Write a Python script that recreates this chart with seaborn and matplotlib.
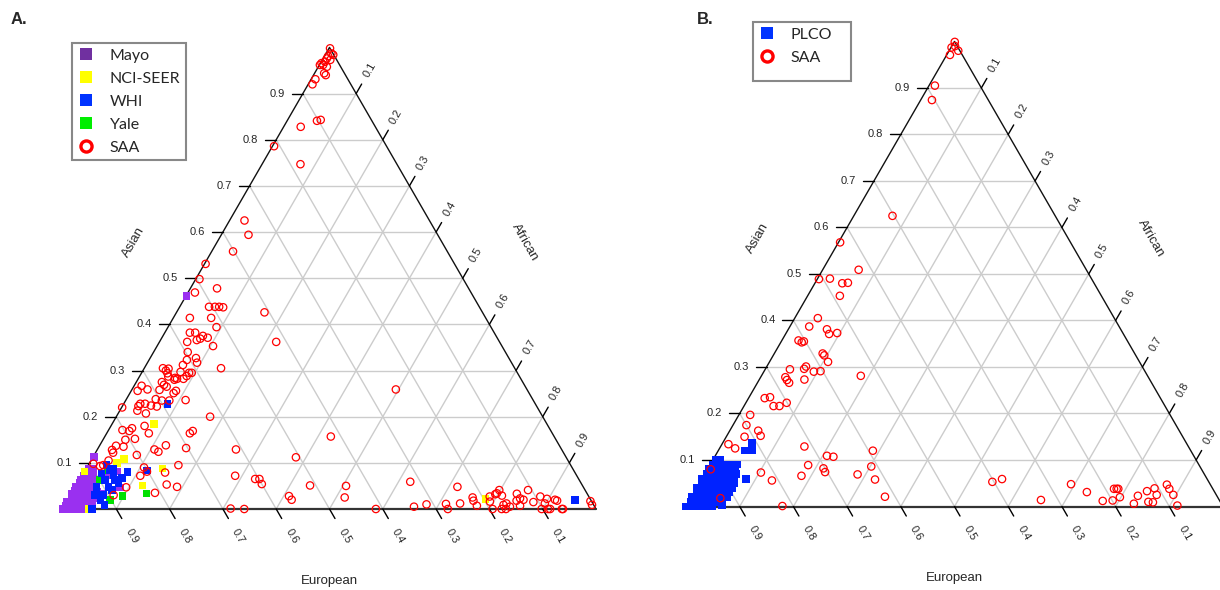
import numpy as np
import pandas as pd
import matplotlib
matplotlib.use("Agg")
import matplotlib.pyplot as plt
from matplotlib.lines import Line2D
from matplotlib.patches import Rectangle
import seaborn as sns

# ---------------- data (ternary compositions: Asian, African; European = 1 - both) -------------
TICKS = [0.1, 0.2, 0.3, 0.4, 0.5, 0.6, 0.7, 0.8, 0.9]
TICK_LABELS = ["0.1", "0.2", "0.3", "0.4", "0.5", "0.6", "0.7", "0.8", "0.9"]
AXIS_NAMES = ["Asian", "African", "European"]
GROUPS_A = ["Mayo", "NCI-SEER", "WHI", "Yale", "SAA"]
GROUPS_B = ["PLCO", "SAA"]

# Panel A - SAA
saa_a_asian = [0.998, 0.987, 0.984, 0.981, 0.976, 0.973, 0.969, 0.966, 0.962, 0.958, 0.962, 0.944, 0.940,
               0.931, 0.920, 0.843, 0.841, 0.828, 0.786, 0.747, 0.625, 0.594, 0.558, 0.531, 0.498, 0.478,
               0.469, 0.438, 0.438, 0.438, 0.437, 0.426, 0.414, 0.414, 0.394, 0.382, 0.382, 0.375, 0.371,
               0.362, 0.366, 0.369, 0.353, 0.362, 0.340, 0.327, 0.317, 0.323, 0.312, 0.305, 0.305, 0.304,
               0.300, 0.297, 0.295, 0.295, 0.294, 0.287, 0.284, 0.282, 0.280, 0.282, 0.288, 0.275, 0.265,
               0.269, 0.258, 0.251, 0.256, 0.267, 0.259, 0.256, 0.236, 0.238, 0.235, 0.228, 0.223, 0.228,
               0.224, 0.222, 0.220, 0.235, 0.207, 0.213, 0.200, 0.180, 0.171, 0.169, 0.175, 0.164, 0.150,
               0.152, 0.169, 0.164, 0.137, 0.128, 0.122, 0.129, 0.124, 0.138, 0.132, 0.129, 0.112, 0.105,
               0.095, 0.093, 0.090, 0.095, 0.072, 0.079, 0.072, 0.065, 0.065, 0.054, 0.053, 0.048, 0.035,
               0.047, 0.030, 0.028, 0.020, 0.001, 0.000, 0.259, 0.157, 0.059, 0.051, 0.050, 0.025, 0.000,
               0.048, 0.005, 0.010, 0.011, 0.000, 0.012, 0.025, 0.018, 0.007, 0.027, 0.016, 0.000, 0.032,
               0.034, 0.041, 0.029, 0.009, 0.012, 0.000, 0.000, 0.005, 0.033, 0.023, 0.018, 0.020, 0.007,
               0.041, 0.015, 0.027, 0.022, 0.012, 0.000, 0.000, 0.000, 0.020, 0.018, 0.000, 0.000, 0.017,
               0.009, 0.098, 0.135, 0.117, 0.081]
saa_a_african = [0.002, 0.010, 0.015, 0.007, 0.007, 0.015, 0.007, 0.002, 0.001, 0.016, 0.007, 0.018, 0.023,
                 0.008, 0.008, 0.062, 0.056, 0.032, 0.003, 0.072, 0.028, 0.051, 0.040, 0.002, 0.007, 0.050,
                 0.013, 0.055, 0.066, 0.074, 0.082, 0.165, 0.031, 0.071, 0.091, 0.047, 0.057, 0.075, 0.086,
                 0.052, 0.068, 0.073, 0.105, 0.219, 0.064, 0.086, 0.093, 0.071, 0.069, 0.144, 0.035, 0.046,
                 0.043, 0.072, 0.089, 0.094, 0.049, 0.054, 0.068, 0.073, 0.069, 0.085, 0.088, 0.048, 0.062,
                 0.055, 0.052, 0.082, 0.084, 0.014, 0.029, 0.012, 0.112, 0.055, 0.068, 0.031, 0.030, 0.040,
                 0.053, 0.065, 0.001, 0.082, 0.052, 0.033, 0.176, 0.063, 0.026, 0.040, 0.042, 0.079, 0.042,
                 0.059, 0.159, 0.156, 0.031, 0.028, 0.033, 0.107, 0.117, 0.124, 0.165, 0.260, 0.381, 0.033,
                 0.028, 0.023, 0.107, 0.169, 0.109, 0.152, 0.287, 0.328, 0.336, 0.346, 0.168, 0.190, 0.155,
                 0.095, 0.080, 0.410, 0.419, 0.314, 0.340, 0.495, 0.424, 0.622, 0.438, 0.506, 0.516, 0.587,
                 0.716, 0.656, 0.677, 0.713, 0.722, 0.739, 0.756, 0.761, 0.773, 0.787, 0.793, 0.806, 0.795,
                 0.797, 0.798, 0.809, 0.822, 0.826, 0.823, 0.831, 0.836, 0.835, 0.846, 0.842, 0.854, 0.854,
                 0.852, 0.875, 0.882, 0.897, 0.898, 0.898, 0.910, 0.914, 0.913, 0.918, 0.936, 0.938, 0.981,
                 0.988, 0.008, 0.046, 0.080, 0.117]

# Panel A - Mayo
mayo_asian = [0.000, 0.000, 0.000, 0.000, 0.000, 0.000,
              0.008, 0.008, 0.008, 0.008, 0.008, 0.008,
              0.016, 0.016, 0.016, 0.016, 0.016, 0.016,
              0.024, 0.024, 0.024, 0.024, 0.024, 0.024,
              0.032, 0.032, 0.032, 0.032, 0.032, 0.032,
              0.040, 0.040, 0.040, 0.040, 0.040,
              0.048, 0.048, 0.048, 0.048, 0.048,
              0.056, 0.056, 0.056, 0.056,
              0.064, 0.064, 0.064, 0.064,
              0.072, 0.072, 0.072,
              0.080, 0.080, 0.080,
              0.088, 0.088,
              0.462, 0.113, 0.081, 0.047, 0.074, 0.063, 0.038, 0.034]
mayo_african = [0.000, 0.010, 0.020, 0.030, 0.040, 0.047,
                0.002, 0.012, 0.024, 0.035, 0.043, 0.050,
                0.000, 0.008, 0.018, 0.028, 0.038, 0.047,
                0.004, 0.014, 0.022, 0.032, 0.040, 0.048,
                0.000, 0.010, 0.020, 0.030, 0.036, 0.044,
                0.003, 0.012, 0.022, 0.031, 0.040,
                0.000, 0.009, 0.018, 0.027, 0.036,
                0.004, 0.013, 0.022, 0.031,
                0.001, 0.010, 0.019, 0.028,
                0.003, 0.012, 0.021,
                0.002, 0.009, 0.017,
                0.004, 0.012,
                0.001, 0.002, 0.061, 0.083, 0.044, 0.029, 0.045, 0.056]

# Panel A - NCI-SEER
nci_asian = [0.184, 0.100, 0.108, 0.088, 0.051, 0.022, 0.000, 0.081]
nci_african = [0.079, 0.051, 0.060, 0.143, 0.124, 0.782, 0.049, 0.000]

# Panel A - WHI
whi_asian = [0.228, 0.020, 0.077, 0.085, 0.074, 0.063, 0.067, 0.048, 0.041, 0.030, 0.020,
             0.000, 0.080, 0.083, 0.063, 0.056, 0.088, 0.095, 0.048, 0.009, 0.030]
whi_african = [0.082, 0.951, 0.034, 0.046, 0.058, 0.066, 0.077, 0.061, 0.071, 0.060, 0.060,
               0.054, 0.081, 0.116, 0.047, 0.076, 0.050, 0.034, 0.039, 0.073, 0.045]

# Panel A - Yale
yale_asian = [0.034, 0.028, 0.083, 0.063, 0.030, 0.020]
yale_african = [0.140, 0.098, 0.043, 0.038, 0.053, 0.078]

# Panel B - SAA
saa_b_asian = [0.999, 0.987, 0.990, 0.980, 0.971, 0.905, 0.874, 0.625, 0.568, 0.509, 0.489, 0.490, 0.480,
               0.481, 0.453, 0.405, 0.387, 0.381, 0.371, 0.373, 0.357, 0.353, 0.355, 0.329, 0.325, 0.311,
               0.301, 0.296, 0.295, 0.290, 0.291, 0.281, 0.278, 0.272, 0.266, 0.273, 0.233, 0.235, 0.216,
               0.216, 0.223, 0.197, 0.175, 0.163, 0.152, 0.150, 0.134, 0.125, 0.129, 0.109, 0.107, 0.120,
               0.089, 0.082, 0.074, 0.066, 0.073, 0.056, 0.069, 0.086, 0.058, 0.021, 0.001, 0.080, 0.018,
               0.053, 0.059, 0.014, 0.048, 0.031, 0.012, 0.013, 0.038, 0.038, 0.038, 0.020, 0.006, 0.023,
               0.033, 0.010, 0.009, 0.039, 0.025, 0.047, 0.038, 0.025, 0.002]
saa_b_african = [0.001, 0.001, 0.006, 0.017, 0.006, 0.011, 0.021, 0.072, 0.003, 0.067, 0.003, 0.023, 0.051,
                 0.061, 0.060, 0.043, 0.036, 0.072, 0.081, 0.095, 0.031, 0.039, 0.042, 0.090, 0.095, 0.109,
                 0.073, 0.072, 0.046, 0.093, 0.105, 0.185, 0.046, 0.052, 0.059, 0.084, 0.030, 0.039, 0.055,
                 0.066, 0.076, 0.021, 0.025, 0.053, 0.063, 0.034, 0.012, 0.029, 0.156, 0.208, 0.221, 0.288,
                 0.183, 0.215, 0.222, 0.182, 0.103, 0.132, 0.285, 0.302, 0.323, 0.360, 0.179, 0.006, 0.055,
                 0.544, 0.559, 0.654, 0.693, 0.731, 0.770, 0.788, 0.778, 0.783, 0.786, 0.798, 0.831, 0.830,
                 0.842, 0.856, 0.865, 0.853, 0.864, 0.872, 0.881, 0.895, 0.914]

# Panel B - PLCO
plco_asian = [0.000, 0.000, 0.000, 0.000, 0.000, 0.000,
              0.010, 0.010, 0.010, 0.010, 0.010, 0.010, 0.010,
              0.020, 0.020, 0.020, 0.020, 0.020, 0.020, 0.020, 0.020,
              0.030, 0.030, 0.030, 0.030, 0.030, 0.030, 0.030,
              0.040, 0.040, 0.040, 0.040, 0.040, 0.040, 0.040, 0.040,
              0.050, 0.050, 0.050, 0.050, 0.050, 0.050, 0.050,
              0.060, 0.060, 0.060, 0.060, 0.060, 0.060, 0.060,
              0.070, 0.070, 0.070, 0.070, 0.070, 0.070, 0.070,
              0.080, 0.080, 0.080, 0.080, 0.080, 0.080,
              0.090, 0.090, 0.090, 0.090, 0.090,
              0.100, 0.100,
              0.137, 0.120, 0.120, 0.059, 0.003, 0.084]
plco_african = [0.000, 0.010, 0.020, 0.030, 0.040, 0.048,
                0.004, 0.014, 0.024, 0.034, 0.044, 0.054, 0.060,
                0.000, 0.010, 0.020, 0.030, 0.040, 0.050, 0.060, 0.066,
                0.005, 0.015, 0.025, 0.035, 0.045, 0.055, 0.065,
                0.000, 0.010, 0.020, 0.030, 0.040, 0.050, 0.060, 0.066,
                0.005, 0.015, 0.025, 0.035, 0.045, 0.055, 0.064,
                0.000, 0.010, 0.020, 0.030, 0.040, 0.050, 0.060,
                0.004, 0.014, 0.024, 0.034, 0.044, 0.054, 0.058,
                0.002, 0.012, 0.022, 0.032, 0.042, 0.052,
                0.004, 0.014, 0.026, 0.040, 0.050,
                0.006, 0.014,
                0.054, 0.050, 0.064, 0.082, 0.066, 0.043]

COLORS = {"Mayo": "#9a30f0", "NCI-SEER": "#ffff00", "WHI": "#0022ff", "Yale": "#00e000", "PLCO": "#0022ff"}
LEGEND_COLORS = {"Mayo": "#7030a0", "NCI-SEER": "#ffff00", "WHI": "#0033ff", "Yale": "#00ee00", "PLCO": "#0033ff"}

# ---------------- helpers -------------
H = np.sqrt(3) / 2


def tern(asian, african):
    a = np.asarray(asian, float)
    f = np.asarray(african, float)
    return f + a / 2, a * H


def frame(ax, s):
    gc = "#cccccc"
    for t in TICKS:
        ax.plot([t / 2, 1 - t / 2], [t * H, t * H], color=gc, lw=1.0, zorder=1)
        ax.plot([t, (1 + t) / 2], [0, (1 - t) * H], color=gc, lw=1.0, zorder=1)
        ax.plot([1 - t, (1 - t) / 2], [0, (1 - t) * H], color=gc, lw=1.0, zorder=1)
    ax.plot([0, 0.5, 1], [0, H, 0], color="#111111", lw=1.0, zorder=2, clip_on=False)
    ax.plot([0, 1], [0, 0], color="#333333", lw=1.6, zorder=2, clip_on=False)
    L = 11 / s
    for t, lab in zip(TICKS, TICK_LABELS):
        # Asian (left side, horizontal ticks)
        px, py = t / 2, t * H
        ax.plot([px - L, px], [py, py], color="black", lw=1.0, clip_on=False)
        ax.text(px - L - 7 / s, py, lab, ha="right", va="center", fontsize=8)
        # European (base)
        px, py = 1 - t, 0
        dx, dy = 0.5, -H
        ax.plot([px, px + L * dx], [py, py + L * dy], color="black", lw=1.0, clip_on=False)
        d = 31 / s
        ax.text(px + d * dx, py + d * dy, lab, ha="center", va="center", rotation=-60,
                rotation_mode="anchor", fontsize=8)
        # African (right side)
        px, py = 0.5 + t / 2, (1 - t) * H
        dx, dy = 0.5, H
        ax.plot([px, px + L * dx], [py, py + L * dy], color="black", lw=1.0, clip_on=False)
        d = 27 / s
        ax.text(px + d * dx, py + d * dy, lab, ha="center", va="center", rotation=60,
                rotation_mode="anchor", fontsize=8)
    o = 72 / s
    ax.text(0.25 - o * H, 0.5 * H + o * 0.5, AXIS_NAMES[0], rotation=60, ha="center", va="center",
            rotation_mode="anchor", fontsize=9.5)
    ax.text(0.75 + o * H, 0.5 * H + o * 0.5, AXIS_NAMES[1], rotation=-60, ha="center", va="center",
            rotation_mode="anchor", fontsize=9.5)
    ax.text(0.5, -o, AXIS_NAMES[2], ha="center", va="center", fontsize=9.5)


def make_df(group, asian, african):
    x, y = tern(asian, african)
    return pd.DataFrame({"x": x, "y": y, "group": group})


# ---------------- figure -------------
sns.set_theme(style="white")
plt.rcParams["font.family"] = ["Liberation Sans", "DejaVu Sans"]

W, HGT = 1220, 590
fig = plt.figure(figsize=(W / 100, HGT / 100), dpi=100)

# panel geometry in pixels
sA, leftA, baseA = 533, 63, 509
sB, leftB, baseB = 537, 686, 506.5
axA = fig.add_axes([0, 0, 610 / W, 1])
axA.set_xlim(-leftA / sA, (610 - leftA) / sA)
axA.set_ylim(-(HGT - baseA) / sA, baseA / sA)
axB = fig.add_axes([610 / W, 0, 610 / W, 1])
axB.set_xlim(-(leftB - 610) / sB, (1220 - leftB) / sB)
axB.set_ylim(-(HGT - baseB) / sB, baseB / sB)
for ax in (axA, axB):
    ax.set_axis_off()

frame(axA, sA)
frame(axB, sB)

sq = dict(marker="s", s=30, linewidth=0, legend=False, zorder=3)
circ = dict(marker="o", s=28, facecolors="none", edgecolor="#ff0000", linewidth=0.9, legend=False, zorder=4)

dfA = pd.concat([make_df("Mayo", mayo_asian, mayo_african),
                 make_df("Yale", yale_asian, yale_african),
                 make_df("NCI-SEER", nci_asian, nci_african),
                 make_df("WHI", whi_asian, whi_african)], ignore_index=True)
sns.scatterplot(data=dfA, x="x", y="y", hue="group", palette=COLORS, ax=axA, **sq)
sns.scatterplot(data=make_df("SAA", saa_a_asian, saa_a_african), x="x", y="y", ax=axA, **circ)

sns.scatterplot(data=make_df("PLCO", plco_asian, plco_african), x="x", y="y", hue="group",
                palette=COLORS, ax=axB, **sq)
sns.scatterplot(data=make_df("SAA", saa_b_asian, saa_b_african), x="x", y="y", ax=axB, **circ)

for ax in (axA, axB):
    ax.set_xlabel("")
    ax.set_ylabel("")


def handles(groups):
    hs = []
    for g in groups:
        if g == "SAA":
            hs.append(Line2D([], [], ls="none", marker="o", markersize=8, markerfacecolor="none",
                             markeredgecolor="#ff0000", markeredgewidth=2.4, label=g))
        else:
            hs.append(Line2D([], [], ls="none", marker="s", markersize=8.5, markerfacecolor=LEGEND_COLORS[g],
                             markeredgewidth=0, label=g))
    return hs


leg_kw = dict(loc="upper left", fancybox=False, framealpha=1, edgecolor="#888888",
              borderaxespad=0, borderpad=0.35, labelspacing=0.55, handlelength=1.0, handletextpad=1.0,
              prop={"family": "Lato", "size": 11.5})
legA = fig.legend(handles=handles(GROUPS_A), bbox_to_anchor=(72 / W, 1 - 43 / HGT), frameon=True, **leg_kw)
legA.get_frame().set_linewidth(1.5)

# Panel B legend: box is taller than its two entries in the original
fig.patches.append(Rectangle((753 / W, 1 - 81 / HGT), 98 / W, 59 / HGT, transform=fig.transFigure,
                             facecolor="white", edgecolor="#888888", linewidth=1.5, zorder=5))
legB = fig.legend(handles=handles(GROUPS_B), bbox_to_anchor=(753 / W, 1 - 22 / HGT), frameon=False, **leg_kw)
legB.set_zorder(6)

fig.text(11 / W, 1 - 20 / HGT, "A.", fontsize=12, fontweight="bold", ha="left", va="center")
fig.text(697 / W, 1 - 19 / HGT, "B.", fontsize=12, fontweight="bold", ha="left", va="center")

fig.savefig("out.png", dpi=100)
